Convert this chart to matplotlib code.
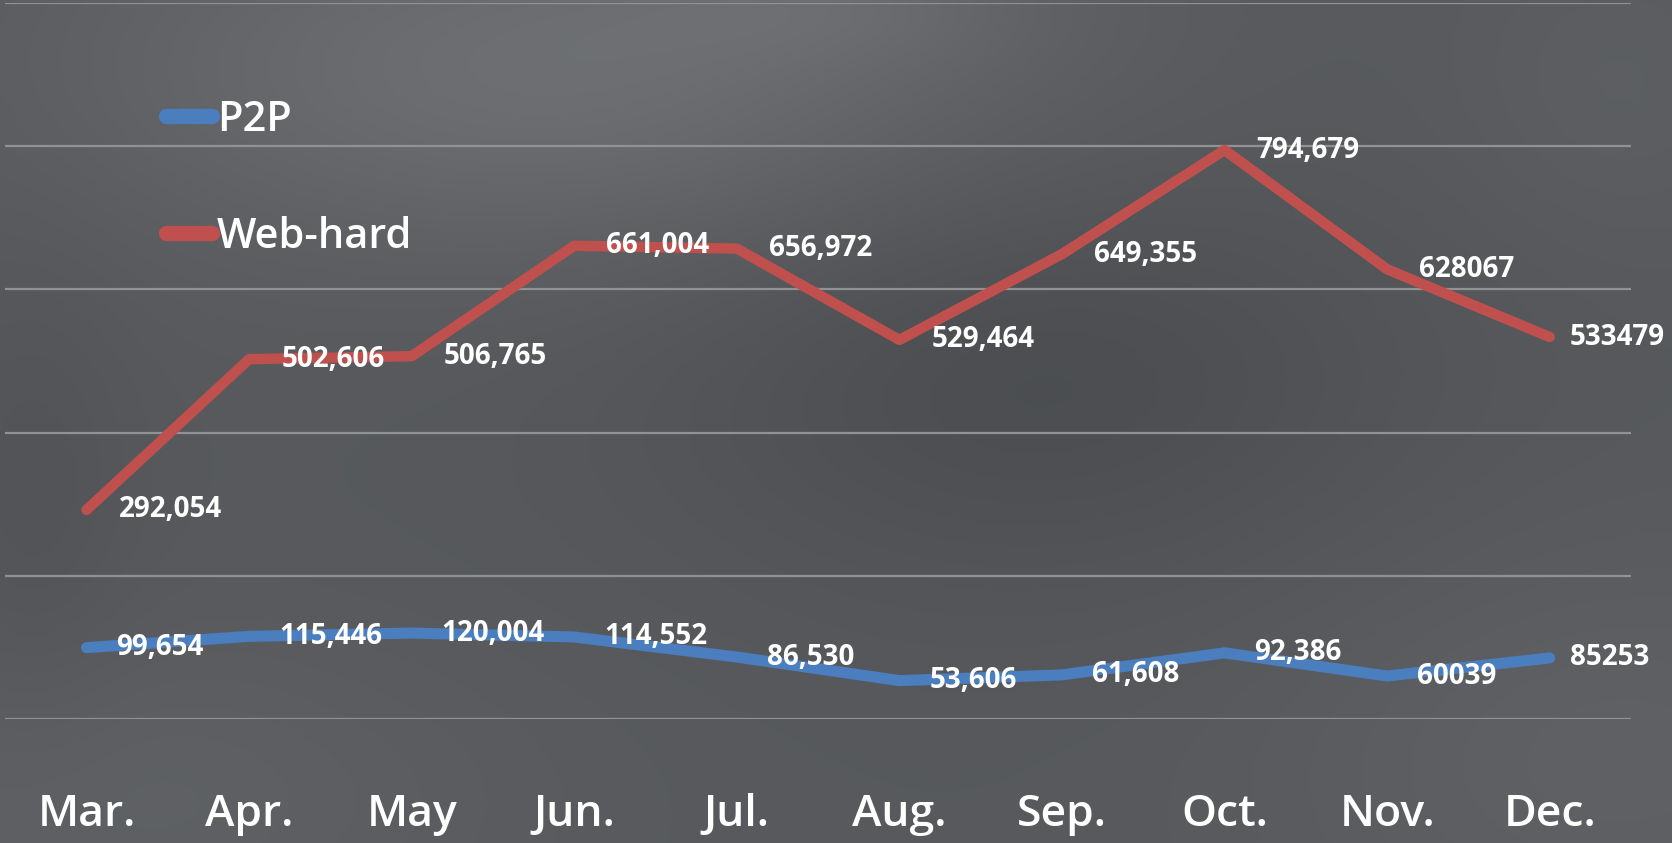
import numpy as np
import matplotlib
matplotlib.use("Agg")
import matplotlib.pyplot as plt

months = ["Mar.", "Apr.", "May", "Jun.", "Jul.", "Aug.", "Sep.", "Oct.", "Nov.", "Dec."]
p2p = [99654, 115446, 120004, 114552, 86530, 53606, 61608, 92386, 60039, 85253]
webhard = [292054, 502606, 506765, 661004, 656972, 529464, 649355, 794679, 628067, 533479]
p2p_labels = ["99,654", "115,446", "120,004", "114,552", "86,530", "53,606", "61,608", "92,386", "60039", "85253"]
webhard_labels = ["292,054", "502,606", "506,765", "661,004", "656,972", "529,464", "649,355", "794,679", "628067", "533479"]
series_names = ["P2P", "Web-hard"]
yticks = [0, 200000, 400000, 600000, 800000, 1000000]

plt.rcParams['font.family'] = ['Open Sans', 'DejaVu Sans']

W, H = 1672, 843
fig = plt.figure(figsize=(W / 100, H / 100), dpi=100)

# background gradient
yy, xx = np.mgrid[0:1:H * 1j, 0:1:W * 1j]
base = np.full((H, W), 0x57 / 255.0)
def blob(cx, cy, sx, sy, amp):
    return amp * np.exp(-(((xx - cx) / sx) ** 2 + ((yy - cy) / sy) ** 2))
val = base.copy()
val += blob(0.33, 0.08, 0.28, 0.22, 0.085)
val += blob(0.50, 0.0, 0.12, 0.08, 0.03)
val -= blob(0.62, 0.45, 0.22, 0.25, 0.045)
val -= blob(0.02, 0.6, 0.06, 0.3, 0.02)
val += blob(0.05, 0.95, 0.25, 0.2, 0.03)
val += blob(0.97, 0.9, 0.2, 0.25, 0.03)
val += blob(0.97, 0.1, 0.1, 0.2, 0.02)
img = np.dstack([val, val + 0.008, val + 0.02])
img = np.clip(img, 0, 1)
bg = fig.add_axes([0, 0, 1, 1])
bg.imshow(img, aspect='auto', extent=[0, 1, 0, 1], origin='upper')
bg.set_axis_off()

ax_w = 1631 - 5.3
ax = fig.add_axes([5.3 / W, (H - 719) / H, ax_w / W, (719 - 3) / H])
ax.patch.set_alpha(0)
x = np.arange(len(months))
ax.set_xlim(-0.5, len(months) - 0.5)
ax.set_ylim(0, 1000000)
ax.set_yticks(yticks)
ax.yaxis.grid(True, color='#909294', linewidth=1.6)
ax.set_axisbelow(True)
for s in ax.spines.values():
    s.set_visible(False)
ax.tick_params(axis='y', left=False, labelleft=False)
ax.set_xticks(x)
ax.set_xticklabels(months, fontsize=32, fontweight='semibold', color='white')
ax.tick_params(axis='x', bottom=False, pad=50)

blue = '#4a7ebf'
red = '#c0504d'
l1, = ax.plot(x, p2p, color=blue, lw=8, solid_capstyle='round', solid_joinstyle='round', label=series_names[0], clip_on=False)
l2, = ax.plot(x, webhard, color=red, lw=7.5, solid_capstyle='round', solid_joinstyle='round', label=series_names[1], clip_on=False)

n = len(months)
for i, (xi, v, t) in enumerate(zip(x, p2p, p2p_labels)):
    off = 20 if i == n - 1 else 30
    ax.annotate(t, (xi, v), xytext=(off, 0), textcoords='offset pixels', ha='left', va='center',
                fontsize=20, fontweight='bold', color='white', annotation_clip=False)
for i, (xi, v, t) in enumerate(zip(x, webhard, webhard_labels)):
    off = 20 if i == n - 1 else 32
    ax.annotate(t, (xi, v), xytext=(off, 0), textcoords='offset pixels', ha='left', va='center',
                fontsize=20, fontweight='bold', color='white', annotation_clip=False)

leg = ax.legend(handles=[l1, l2], loc='upper left', bbox_to_anchor=((166 - 5.3) / ax_w, (719 - 99) / 716),
                frameon=False, fontsize=30, handlelength=1.1, handletextpad=0.12, labelspacing=1.8,
                borderaxespad=0, borderpad=0)
for t in leg.get_texts():
    t.set_color('white')
    t.set_fontweight('semibold')
for h in leg.legend_handles:
    h.set_linewidth(11)

fig.savefig('out.png', dpi=100)
